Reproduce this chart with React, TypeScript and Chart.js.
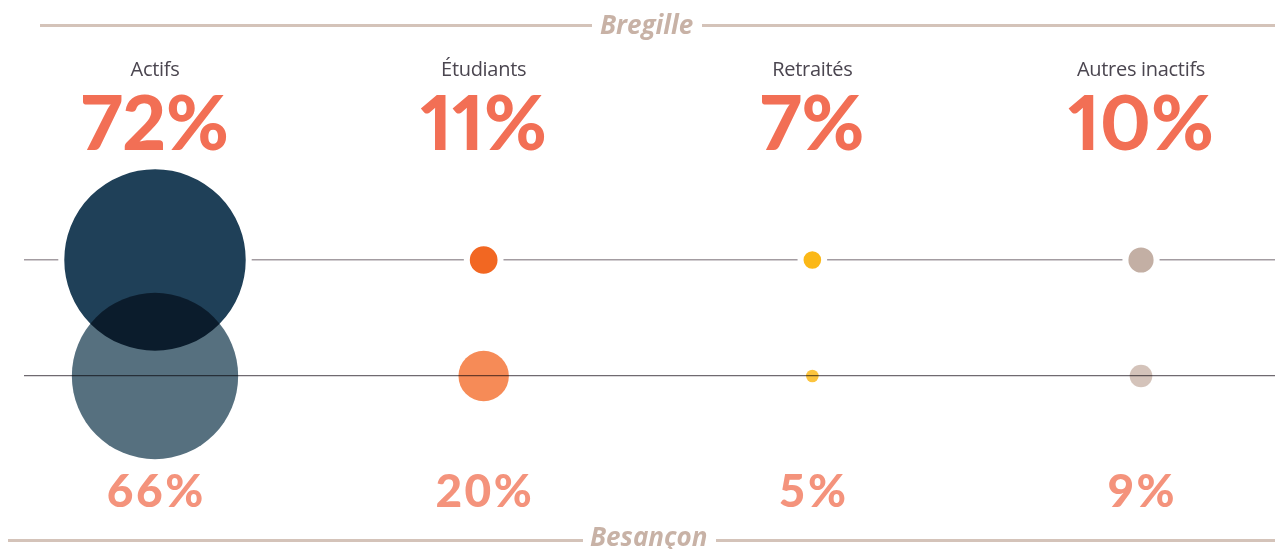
import React, { useEffect, useRef, useState } from "react";
import { Chart, registerables } from "chart.js";

Chart.register(...registerables);

// ---- data ----
const categories = ["Actifs", "Étudiants", "Retraités", "Autres inactifs"];
const bregilleValues = [72, 11, 7, 10];
const besanconValues = [66, 20, 5, 9];
const topTitle = "Bregille";
const bottomTitle = "Besançon";
const rowBregille = 1;
const rowBesancon = 0;

// ---- styles ----
const bregilleColors = ["#1f4058", "#f26722", "#fbb817", "#c3afa4"];
const besanconColors = ["#56707f", "#f68b57", "#fcc43e", "#d4c3ba"];
const RADIUS_PER_PERCENT = 1.26;
const GAP = 6;
const W = 1275;
const H = 549;

const multiplyPlugin = {
  id: "multiplyBottom",
  beforeDatasetDraw(chart: any, args: any) {
    if (args.index === 1) {
      chart.ctx.save();
      chart.ctx.globalCompositeOperation = "multiply";
    }
  },
  afterDatasetDraw(chart: any, args: any) {
    if (args.index === 1) chart.ctx.restore();
  },
};

export default function App() {
  const ref = useRef<HTMLCanvasElement | null>(null);
  const [xs, setXs] = useState<number[]>([155, 484, 813, 1142]);

  useEffect(() => {
    if (!ref.current) return;
    const chart = new Chart(ref.current, {
      type: "bubble",
      data: {
        datasets: [
          {
            label: topTitle,
            order: 1,
            data: bregilleValues.map((v, i) => ({ x: i, y: rowBregille, r: v * RADIUS_PER_PERCENT + GAP / 2 })),
            backgroundColor: bregilleColors,
            borderColor: "#ffffff",
            borderWidth: GAP,
            clip: false as any,
          },
          {
            label: bottomTitle,
            order: 0,
            data: besanconValues.map((v, i) => ({ x: i, y: rowBesancon, r: v * RADIUS_PER_PERCENT })),
            backgroundColor: besanconColors,
            borderWidth: 0,
            clip: false as any,
          },
        ],
      },
      options: {
        responsive: false,
        devicePixelRatio: 1,
        animation: false,
        events: [],
        layout: { autoPadding: false, padding: { left: 24, right: 0, top: 0, bottom: 0 } },
        plugins: { legend: { display: false }, tooltip: { enabled: false } },
        scales: {
          x: { type: "linear", min: -0.3986, max: 3.4077, display: false },
          y: {
            type: "linear",
            min: -1.4914,
            max: 3.2414,
            afterBuildTicks: (s: any) => {
              s.ticks = [{ value: rowBesancon }, { value: rowBregille }];
            },
            afterFit: (s: any) => {
              s.width = 0;
            },
            ticks: { display: false },
            border: { display: false },
            grid: {
              drawTicks: false,
              color: (c: any) => (c.tick && c.tick.value === rowBregille ? "#a39ca1" : "#6f6a70"),
              lineWidth: (c: any) => (c.tick && c.tick.value === rowBregille ? 1.5 : 1.2),
            },
          },
        },
      },
      plugins: [multiplyPlugin],
    });
    const sx = chart.scales.x;
    setXs(categories.map((_, i) => sx.getPixelForValue(i)));
    return () => chart.destroy();
  }, []);

  const lineStyle = (w: number | null, mt: number): React.CSSProperties => ({
    height: 3,
    marginTop: mt,
    background: "#d4c3b9",
    width: w === null ? undefined : w,
    flex: w === null ? 1 : undefined,
    flexShrink: 0,
  });
  const titleText: React.CSSProperties = {
    fontFamily: "'Open Sans', sans-serif",
    fontStyle: "italic",
    fontWeight: 700,
    fontSize: 26,
    lineHeight: "26px",
    color: "#c8b2a6",
    whiteSpace: "nowrap",
  };

  return (
    <div style={{ position: "absolute", left: 0, top: 0, width: W, height: H, background: "#fff", overflow: "hidden" }}>
      <canvas ref={ref} width={W} height={H} style={{ position: "absolute", left: 0, top: 0 }} />
      <div style={{ position: "absolute", left: 40, right: 0, top: 11, height: 26, display: "flex", alignItems: "flex-start" }}>
        <div style={lineStyle(552, 13)} />
        <div style={{ ...titleText, margin: "0 9px 0 8px" }}>{topTitle}</div>
        <div style={lineStyle(null, 13)} />
      </div>
      <div style={{ position: "absolute", left: 8, right: 0, top: 523, height: 26, display: "flex", alignItems: "flex-start" }}>
        <div style={lineStyle(575, 16)} />
        <div style={{ ...titleText, margin: "0 8px 0 7px" }}>{bottomTitle}</div>
        <div style={lineStyle(null, 16)} />
      </div>
      {categories.map((c, i) => (
        <React.Fragment key={c}>
          <div
            style={{
              position: "absolute", left: xs[i] - 150, width: 300, top: 59, textAlign: "center",
              fontFamily: "'Open Sans', sans-serif", fontSize: 20, lineHeight: "20px", color: "#4b4650",
              letterSpacing: -0.3, whiteSpace: "nowrap",
            }}
          >
            {c}
          </div>
          <div
            style={{
              position: "absolute", left: xs[i] - 150, width: 300, top: 83, textAlign: "center",
              fontFamily: "Lato, sans-serif", fontWeight: 900, fontSize: 76, lineHeight: "76px", color: "#f26f55",
              whiteSpace: "nowrap", fontVariantNumeric: "proportional-nums",
            }}
          >
            {bregilleValues[i]}%
          </div>
          <div
            style={{
              position: "absolute", left: xs[i] - 150, width: 300, top: 467, textAlign: "center",
              fontFamily: "Lato, sans-serif", fontWeight: 900, fontSize: 46, lineHeight: "46px", color: "#f4937c",
              whiteSpace: "nowrap", letterSpacing: 2.5, textIndent: 2.5,
            }}
          >
            {besanconValues[i]}%
          </div>
        </React.Fragment>
      ))}
    </div>
  );
}
